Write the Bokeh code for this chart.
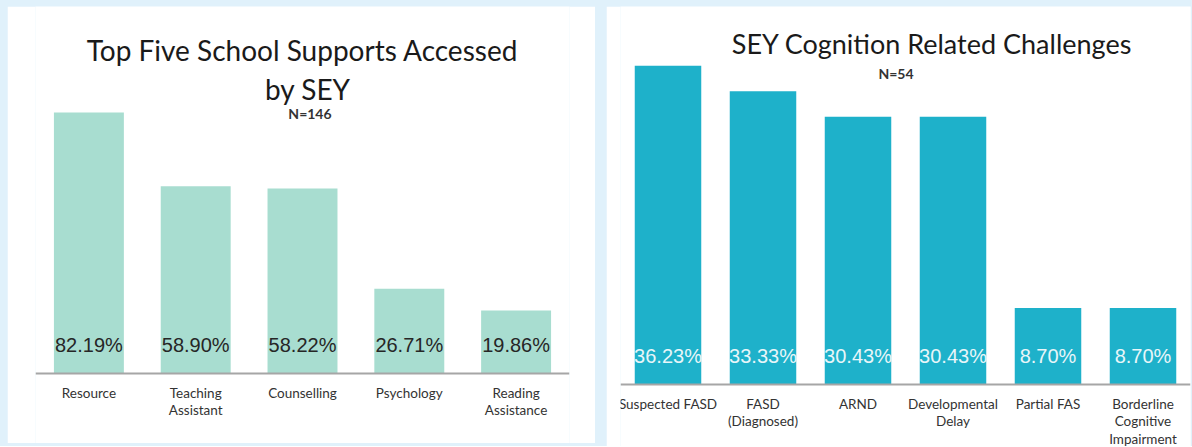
from bokeh.plotting import figure
from bokeh.models import Range1d, FactorRange, Label, LabelSet, ColumnDataSource, Spacer, Span
from bokeh.layouts import row, column
from bokeh.core.properties import value
from bokeh.embed import file_html
from bokeh.resources import INLINE

# ---- data ----
left_title_1 = "Top Five School Supports Accessed"
left_title_2 = "by SEY"
left_n = "N=146"
left_categories = ["Resource", "Teaching Assistant", "Counselling", "Psychology", "Reading Assistance"]
left_tick_labels = ["Resource", "Teaching\nAssistant", "Counselling", "Psychology", "Reading\nAssistance"]
left_values = [82.19, 58.90, 58.22, 26.71, 19.86]

right_title = "SEY Cognition Related Challenges"
right_n = "N=54"
right_categories = ["Suspected FASD", "FASD (Diagnosed)", "ARND", "Developmental Delay", "Partial FAS",
                    "Borderline Cognitive Impairment"]
right_tick_labels = ["Suspected FASD", "FASD\n(Diagnosed)", "ARND", "Developmental\nDelay", "Partial FAS",
                     "Borderline\nCognitive\nImpairment"]
right_values = [36.23, 33.33, 30.43, 30.43, 8.70, 8.70]

BG = "#e0f1fb"
TITLE_FONT = "Lato"
LABEL_FONT = "Liberation Sans"


def make_panel(cats, ticks, vals, width, height, base_px, px_per_unit, bl, br, color, lab_color,
               lab_px, bar_w, tick_size, tick_first_px, tick_line_px):
    ymax = base_px / px_per_unit
    ymin = -(height - base_px) / px_per_unit
    p = figure(width=width, height=height, x_range=FactorRange(*cats),
               y_range=Range1d(ymin, ymax), output_backend="svg", toolbar_location=None,
               y_axis_location=None, x_axis_location=None, min_border_left=bl, min_border_right=br,
               min_border_top=0, min_border_bottom=0)
    p.outline_line_color = None
    p.grid.visible = False
    p.background_fill_color = "white"
    p.border_fill_color = "white"
    src = ColumnDataSource(dict(x=cats, top=vals,
                                lab=["%.2f%%" % v for v in vals],
                                ly=[lab_px / px_per_unit] * len(vals)))
    p.vbar(x="x", top="top", bottom=0, width=bar_w, source=src, fill_color=color, line_color=None)
    p.add_layout(Span(location=0, dimension="width", line_color="#a6a6a6", line_width=2))
    p.add_layout(LabelSet(x="x", y="ly", text="lab", source=src, text_align="center",
                          text_baseline="middle", text_font=value(LABEL_FONT), text_font_size="20px",
                          text_color=lab_color))
    # category labels, one line each, below the axis line
    tx, ty, tt = [], [], []
    for c, t in zip(cats, ticks):
        for i, line in enumerate(t.split("\n")):
            tx.append(c)
            ty.append(-(tick_first_px + i * tick_line_px) / px_per_unit)
            tt.append(line)
    tsrc = ColumnDataSource(dict(x=tx, y=ty, t=tt))
    p.add_layout(LabelSet(x="x", y="y", text="t", source=tsrc, text_align="center",
                          text_baseline="middle", text_font=value(TITLE_FONT),
                          text_font_size=tick_size, text_color="#333333"))
    return p


# left panel (page origin x=7, y=6): baseline at 367 px from top, 3.177 px per %
L_BASE = 367
L_PX = 3.177
p1 = make_panel(left_categories, left_tick_labels, left_values, 588, 437, L_BASE, L_PX,
                28, 26, "#a8ddd0", "#262626", 29, 0.655, "13.5px", 19, 17.5)
p1.add_layout(Label(x=2.5, y=(L_BASE - 43) / L_PX, text=left_title_1, text_align="center",
                    text_baseline="middle", text_font=TITLE_FONT, text_font_size="28px",
                    text_color="#1a1a1a"))
p1.add_layout(Label(x=2.55, y=(L_BASE - 82) / L_PX, text=left_title_2, text_align="center",
                    text_baseline="middle", text_font=TITLE_FONT, text_font_size="28px",
                    text_color="#1a1a1a"))
p1.add_layout(Label(x=2.57, y=(L_BASE - 107) / L_PX, text=left_n, text_align="center",
                    text_baseline="middle", text_font=TITLE_FONT, text_font_size="14px",
                    text_font_style="bold", text_color="#333333"))

# right panel (page origin x=606, y=6): baseline at 378 px from top, 8.8 px per %
R_BASE = 378
R_PX = 8.8
p2 = make_panel(right_categories, right_tick_labels, right_values, 585, 440, R_BASE, R_PX,
                14, 1, "#1eb1ca", "#e8f6f9", 29, 0.7, "13.5px", 19, 17.5)
p2.add_layout(Label(x=3.28, y=(R_BASE - 37) / R_PX, text=right_title, text_align="center",
                    text_baseline="middle", text_font=TITLE_FONT, text_font_size="27px",
                    text_color="#1a1a1a"))
p2.add_layout(Label(x=2.9, y=(R_BASE - 67) / R_PX, text=right_n, text_align="center",
                    text_baseline="middle", text_font=TITLE_FONT, text_font_size="14px",
                    text_font_style="bold", text_color="#333333"))

layout = column(Spacer(width=1192, height=6),
                row(Spacer(width=7, height=437), p1, Spacer(width=11, height=437), p2),
                styles={"background-color": BG})

open("out.html", "w").write(file_html(layout, INLINE))
